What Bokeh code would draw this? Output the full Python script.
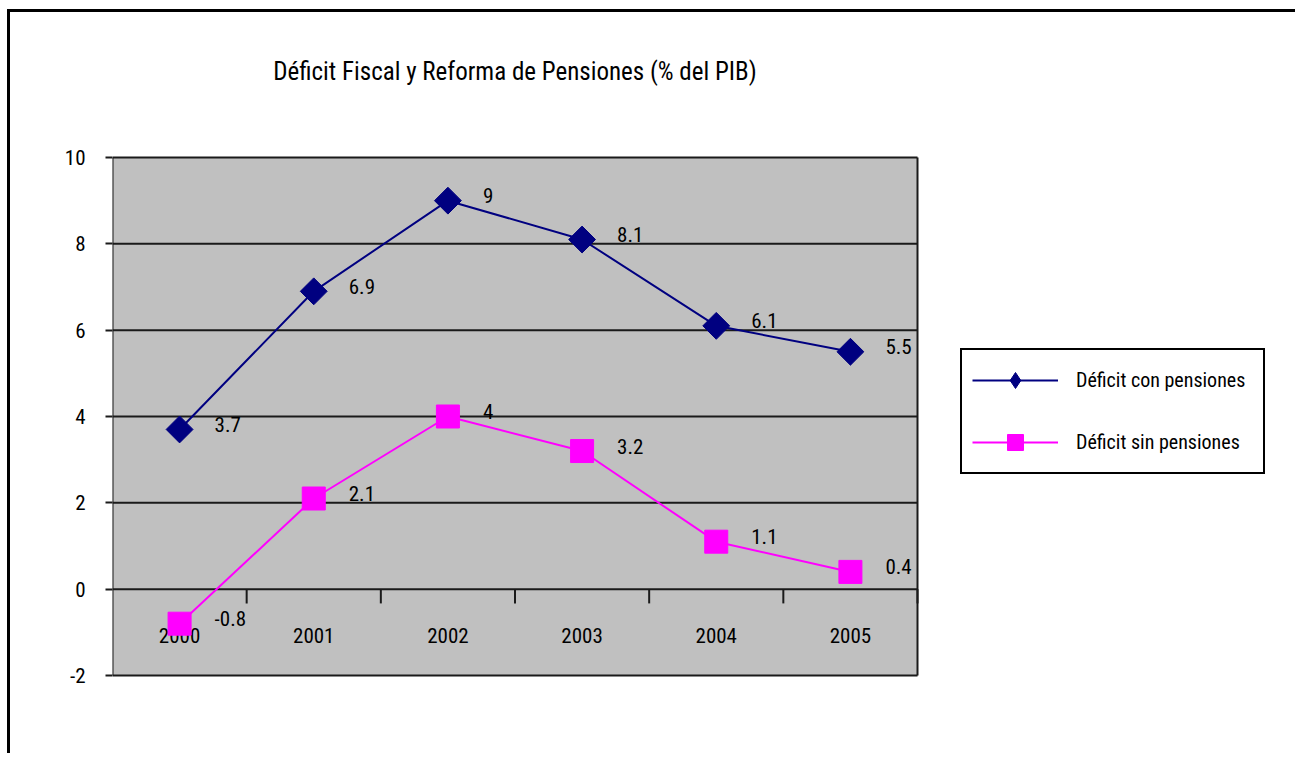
import numpy as np
from bokeh.plotting import figure
from bokeh.models import ColumnDataSource, Range1d, FixedTicker, Legend, LegendItem
from bokeh.core.properties import value
from bokeh.embed import file_html
from bokeh.resources import INLINE

# ---- data ----
years = ["2000", "2001", "2002", "2003", "2004", "2005"]
con_pensiones = [3.7, 6.9, 9.0, 8.1, 6.1, 5.5]
sin_pensiones = [-0.8, 2.1, 4.0, 3.2, 1.1, 0.4]
y_ticks = [-2, 0, 2, 4, 6, 8, 10]
series_names = ["Déficit con pensiones", "Déficit sin pensiones"]
title_text = "Déficit Fiscal y Reforma de Pensiones (% del PIB)"

FONT = "Roboto Condensed"
NAVY = "#000080"
MAGENTA = "#FF00FF"
GRID = "#1a1a1a"
PLOT_BG = "#C0C0C0"

# ---- layout (pixels) ----
W, H = 1288, 744            # canvas
LEFT = 102                  # room for y tick labels
PLOT_W, PLOT_H = 805, 518   # grey plot area
PLOT_TOP = 145              # grey area top, from canvas top
n = len(years)
ymin, ymax = min(y_ticks), max(y_ticks)
px_y = PLOT_H / (ymax - ymin)
px_x = PLOT_W / n
frame_w = W - LEFT
y_lo = ymin - (H - PLOT_TOP - PLOT_H) / px_y
y_hi = ymax + PLOT_TOP / px_y

xs = np.arange(n) + 0.5
bounds = np.arange(1, n + 1)

p = figure(width=W, height=H,
           x_range=Range1d(0, frame_w / px_x), y_range=Range1d(y_lo, y_hi),
           x_axis_location=None,
           output_backend="svg", toolbar_location=None,
           min_border_left=LEFT, min_border_right=0,
           min_border_top=0, min_border_bottom=0,
           background_fill_color="white", border_fill_color="white")
p.styles = {"border-top": "3px solid black", "border-left": "3px solid black",
            "margin-top": "9px", "margin-left": "7px"}
p.grid.visible = False
p.outline_line_color = None

ax = p.yaxis[0]
ax.ticker = FixedTicker(ticks=y_ticks)
ax.major_label_overrides = {t: f"{t:g}" for t in y_ticks}
ax.axis_line_color = None
ax.major_tick_line_color = GRID
ax.major_tick_line_width = 2
ax.major_tick_out = 7
ax.major_tick_in = 0
ax.minor_tick_line_color = None
ax.major_label_standoff = 20
ax.major_label_text_font = FONT
ax.major_label_text_font_size = "21px"
ax.major_label_text_color = "black"

# grey plot area, gridlines and borders
p.quad(left=[0], right=[n], bottom=[ymin], top=[ymax],
       fill_color=PLOT_BG, line_color=None)
p.segment(x0=[0] * len(y_ticks), y0=y_ticks, x1=[n] * len(y_ticks), y1=y_ticks,
          line_color=GRID, line_width=2)
p.segment(x0=[0, n], y0=[ymin, ymin], x1=[0, n], y1=[ymax, ymax],
          line_color=GRID, line_width=2)

# title
p.text(x=[n / 2], y=[ymax], text=[title_text], y_offset=-86,
       text_align="center", text_baseline="middle",
       text_font=value(FONT), text_font_size="25px", text_color="black")

# category axis drawn at y = 0
tick_len = 0.33
p.segment(x0=bounds, y0=[0] * n, x1=bounds, y1=[-tick_len] * n,
          line_color=GRID, line_width=2)
p.text(x=xs, y=[0] * n, text=years, y_offset=46,
       text_align="center", text_baseline="middle",
       text_font=value(FONT), text_font_size="21px", text_color="black")

# series
src_con = ColumnDataSource(dict(x=xs, y=con_pensiones,
                                lbl=[f"{v:g}" for v in con_pensiones]))
src_sin = ColumnDataSource(dict(x=xs, y=sin_pensiones,
                                lbl=[f"{v:g}" for v in sin_pensiones]))

l_con = p.line("x", "y", source=src_con, line_color=NAVY, line_width=2)
# legend marker for the navy series (hidden under the larger plot markers)
lm_con = p.scatter("x", "y", source=src_con, marker="diamond", size=14,
                   fill_color=NAVY, line_color=NAVY)
p.scatter("x", "y", source=src_con, marker="square", angle=np.pi / 4,
          size=19, fill_color=NAVY, line_color=NAVY)
l_sin = p.line("x", "y", source=src_sin, line_color=MAGENTA, line_width=2)
m_sin = p.scatter("x", "y", source=src_sin, marker="square", size=23,
                  fill_color=MAGENTA, line_color=MAGENTA)

for src in (src_con, src_sin):
    p.text("x", "y", text="lbl", source=src, x_offset=35, y_offset=-5,
           text_align="left", text_baseline="middle",
           text_font=value(FONT), text_font_size="21px", text_color="black")

legend = Legend(items=[LegendItem(label=series_names[0], renderers=[l_con, lm_con]),
                       LegendItem(label=series_names[1], renderers=[l_sin, m_sin])],
                location=(960 - 112, H + 12 - 474), margin=0, padding=10,
                glyph_width=86, glyph_height=40, label_height=40, label_width=177,
                spacing=22, label_standoff=18,
                border_line_color="black", border_line_width=2, border_line_alpha=1,
                background_fill_color="white", background_fill_alpha=1,
                label_text_font=FONT, label_text_font_size="20px",
                label_text_color="black")
p.add_layout(legend, "center")

open("out.html", "w").write(file_html(p, INLINE))
